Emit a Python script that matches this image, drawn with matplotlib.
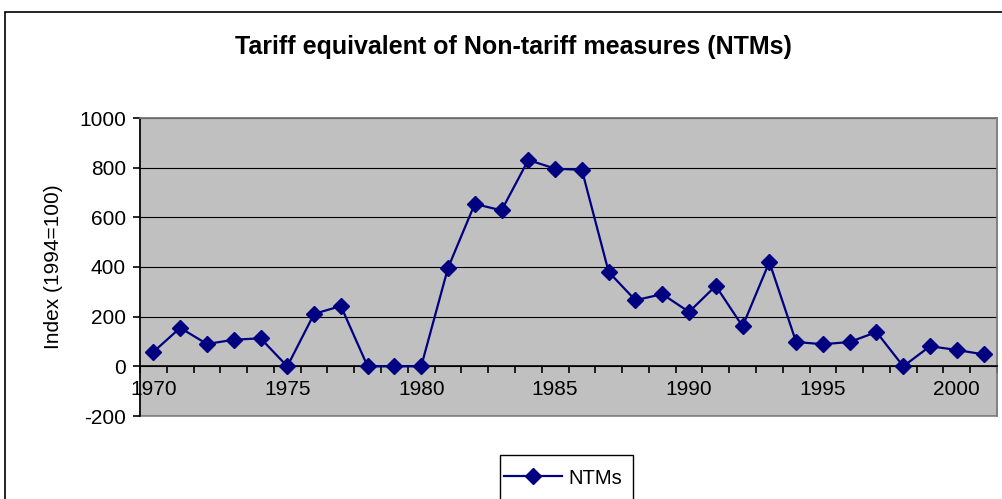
import matplotlib
matplotlib.use('Agg')

import matplotlib.pyplot as plt
from matplotlib.patches import Rectangle
import numpy as np

plt.rcParams['font.family'] = ['Liberation Sans', 'DejaVu Sans']

# data
years = list(range(1970, 2002))
ntms = [58, 155, 90, 107, 113, 0, 211, 243, 0, 0,
        0, 396, 654, 628, 831, 796, 791, 380, 266, 291,
        219, 324, 161, 420, 98, 89, 98, 138, 0, 81,
        66, 48]
label_years = [1970, 1975, 1980, 1985, 1990, 1995, 2000]
y_ticks = [-200, 0, 200, 400, 600, 800, 1000]

W, H = 1002, 499
fig = plt.figure(figsize=(W / 100, H / 100), dpi=100)

# outer chart border (cut off at right and bottom like the reference)
fig.patches.append(Rectangle((5 / W, -0.1), 1.1, 1 - 12 / H + 0.1,
                             transform=fig.transFigure, fill=False,
                             edgecolor='black', linewidth=1.2))

ax = fig.add_axes([140 / W, 1 - 416 / H, (997 - 140) / W, (416 - 118) / H])
ax.set_facecolor('#C0C0C0')

ax.plot(years, ntms, color='#000080', linewidth=1.6, marker='D',
        markersize=8, markerfacecolor='#000080', markeredgecolor='#000080',
        label='NTMs', zorder=3)

ax.set_xlim(years[0] - 0.5, years[-1] + 0.5)
ax.set_ylim(-200, 1000)

ax.set_yticks(y_ticks)
ax.set_yticklabels([str(v) for v in y_ticks])
ax.grid(axis='y', color='black', linewidth=0.8)
ax.set_axisbelow(True)

# category axis crossing at zero
ax.spines['bottom'].set_position(('data', 0))
ax.spines['bottom'].set_linewidth(1.2)
ax.spines['left'].set_linewidth(1.2)
for s in ['top', 'right']:
    ax.spines[s].set_color('#808080')
    ax.spines[s].set_linewidth(1.2)
ax.add_patch(Rectangle((0, 0), 1, 1, transform=ax.transAxes, fill=False,
                       edgecolor='#808080', linewidth=1.2, clip_on=False, zorder=0.5))

ax.set_xticks(label_years)
ax.set_xticklabels([str(y) for y in label_years])
ax.set_xticks(np.arange(years[0] - 0.5, years[-1] + 1), minor=True)
ax.tick_params(axis='x', which='major', length=0, pad=10, labelsize=15)
ax.tick_params(axis='x', which='minor', length=5, width=1.2, direction='out')
ax.tick_params(axis='y', length=5, width=1.2, pad=5, labelsize=15)

ax.set_ylabel('Index (1994=100)', fontsize=15, labelpad=12)

fig.text(513 / W, 1 - 47 / H, 'Tariff equivalent of Non-tariff measures (NTMs)',
         ha='center', va='center', fontsize=18, fontweight='bold')

# legend box
fig.patches.append(Rectangle((500 / W, -0.1), 133 / W, 0.1 + 1 - 455 / H,
                             transform=fig.transFigure, fill=False,
                             edgecolor='black', linewidth=1.0))
fig.legend(loc='center left', bbox_to_anchor=(504 / W, 1 - 478 / H),
           frameon=False, fontsize=14.5, handlelength=2.9, handletextpad=0.3,
           borderaxespad=0, borderpad=0)

plt.savefig('out.png', dpi=100)
